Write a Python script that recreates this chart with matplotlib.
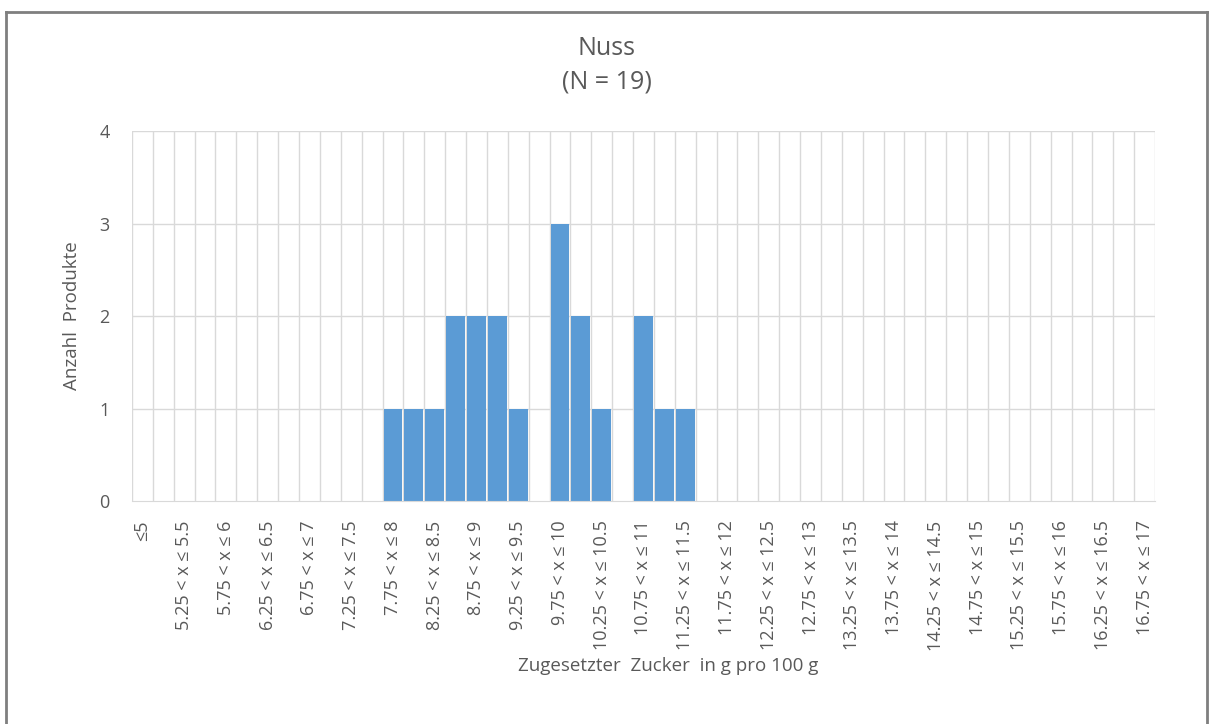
import numpy as np
import matplotlib

matplotlib.use('Agg')
import matplotlib.pyplot as plt
from matplotlib.lines import Line2D

plt.rcParams['font.family'] = ['Open Sans', 'DejaVu Sans']

# bins of 0.25 g from 5 to 17, only every other one gets a label in the chart
bin_labels = ['≤5', '', '5.25 < x ≤ 5.5', '', '5.75 < x ≤ 6', '', '6.25 < x ≤ 6.5', '',
              '6.75 < x ≤ 7', '', '7.25 < x ≤ 7.5', '', '7.75 < x ≤ 8', '', '8.25 < x ≤ 8.5', '',
              '8.75 < x ≤ 9', '', '9.25 < x ≤ 9.5', '', '9.75 < x ≤ 10', '', '10.25 < x ≤ 10.5', '',
              '10.75 < x ≤ 11', '', '11.25 < x ≤ 11.5', '', '11.75 < x ≤ 12', '', '12.25 < x ≤ 12.5', '',
              '12.75 < x ≤ 13', '', '13.25 < x ≤ 13.5', '', '13.75 < x ≤ 14', '', '14.25 < x ≤ 14.5', '',
              '14.75 < x ≤ 15', '', '15.25 < x ≤ 15.5', '', '15.75 < x ≤ 16', '', '16.25 < x ≤ 16.5', '',
              '16.75 < x ≤ 17']
counts = [0, 0, 0, 0, 0, 0, 0, 0, 0, 0, 0, 0,
          1, 1, 1, 2, 2, 2, 1, 0, 3, 2, 1, 0, 2, 1, 1,
          0, 0, 0, 0, 0, 0, 0, 0, 0, 0, 0, 0, 0, 0, 0, 0, 0, 0, 0, 0, 0, 0]
y_ticks = [0, 1, 2, 3, 4]

title = 'Nuss\n(N = 19)'
x_title = 'Zugesetzter  Zucker  in g pro 100 g'
y_title = 'Anzahl  Produkte'

text_col = '#595959'
grid_col = '#D9D9D9'
bar_col = '#5B9BD5'

fig = plt.figure(figsize=(12.13, 7.24), dpi=100)
ax = fig.add_axes([0.1088, 0.308, 0.8434, 0.511])

x = np.arange(len(counts))
ax.bar(x, counts, width=0.9, color=bar_col, zorder=3)

ax.set_xlim(-0.5, len(counts) - 0.5)
ax.set_ylim(0, 4)
ax.set_yticks(y_ticks)
ax.set_xticks(x)
ax.set_xticklabels(bin_labels, rotation=90, fontsize=13, color=text_col)
ax.tick_params(axis='y', labelsize=13, labelcolor=text_col, length=0, pad=16)
ax.tick_params(axis='x', length=0, pad=14)

# gridlines: horizontal at ticks, vertical at bin boundaries
for yv in y_ticks[1:]:
    ax.axhline(yv, color=grid_col, lw=1, zorder=1)
for xv in np.arange(-0.5, len(counts), 1.0):
    ax.axvline(xv, color=grid_col, lw=1, zorder=1)
for s in ['top', 'right', 'left']:
    ax.spines[s].set_visible(False)
ax.spines['bottom'].set_color(grid_col)
ax.spines['bottom'].set_zorder(4)

fig.text(0.5, 1 - 65.5 / 724, title, ha='center', va='center', fontsize=18,
         color=text_col, linespacing=1.45)
fig.text(668 / 1213, 1 - 666 / 724, x_title, ha='center', va='center',
         fontsize=13.5, color=text_col)
ax.set_ylabel(y_title, fontsize=13.5, color=text_col, labelpad=13)

# chart frame around the whole picture (bottom edge is cut off)
for xs, ys in [([6, 6], [0, 712]), ([6, 1207], [712, 712]), ([1207, 1207], [0, 712])]:
    fig.add_artist(Line2D(np.array(xs) / 1213, np.array(ys) / 724,
                          transform=fig.transFigure, color='#7F7F7F', lw=2))

fig.savefig('out.png', dpi=100)
